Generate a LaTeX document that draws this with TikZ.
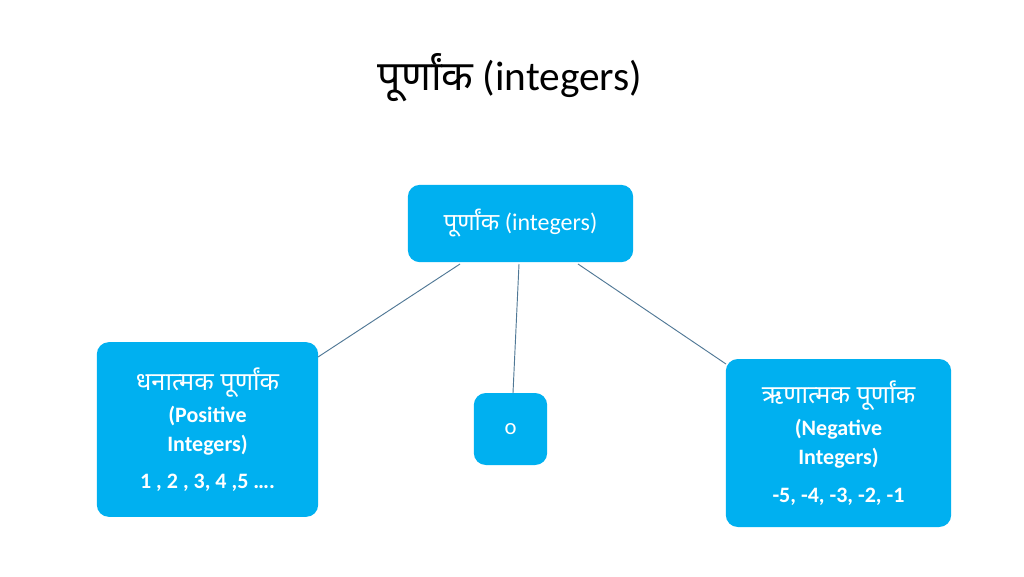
\documentclass[tikz,border=0pt]{standalone}
\usepackage{fontspec}
\setmainfont{Carlito}
\newfontfamily\devfont[Script=Devanagari]{Noto Sans}
\newcommand\devb[1]{{\devfont\bfseries\fontsize{19}{24}\selectfont #1}}
\newcommand\latb{\bfseries\fontsize{16.5}{22}\selectfont}
\begin{document}
\begin{tikzpicture}[x=0.75pt,y=-0.75pt,
  box/.style={fill=boxc,rounded corners=9pt,text=white,align=center,inner sep=0pt},
  link/.style={draw=linec,line width=0.7pt}]
\definecolor{boxc}{RGB}{0,176,240}
\definecolor{linec}{RGB}{80,120,150}
\useasboundingbox (0,0) rectangle (1024,576);
\fill[white] (0,0) rectangle (1024,576);
\node (title) at (510,78) {\fontsize{31}{36}\selectfont{\devfont पूर्णांक} (integers)};
\node[box,minimum width=169pt,minimum height=58pt] (top) at (520.5,223.5) {\fontsize{18}{22}\selectfont{\devfont पूर्णांक} (integers)};
\node[box,minimum width=166pt,minimum height=131pt,font=\latb] (pos) at (207.5,429.5)
  {\devb{धनात्मक पूर्णांक}\\[2pt] (Positive\\ Integers)\\[6pt] 1 , 2 , 3, 4 ,5 ….};
\node[box,minimum width=55pt,minimum height=54pt] (zero) at (510.5,429) {\fontsize{17}{20}\selectfont o};
\node[box,minimum width=169pt,minimum height=126pt,font=\latb] (neg) at (838.5,443)
  {\devb{ऋणात्मक पूर्णांक}\\[2pt] (Negative\\ Integers)\\[6pt] -5, -4, -3, -2, -1};
\coordinate (t1) at (460,264);
\coordinate (t2) at (519,264);
\coordinate (t3) at (578,264);
\coordinate (p1) at (318,357);
\coordinate (z1) at (513,393);
\coordinate (n1) at (726,364);
\draw[link] (t1) -- (p1);
\draw[link] (t2) -- (z1);
\draw[link] (t3) -- (n1);
\end{tikzpicture}
\end{document}
